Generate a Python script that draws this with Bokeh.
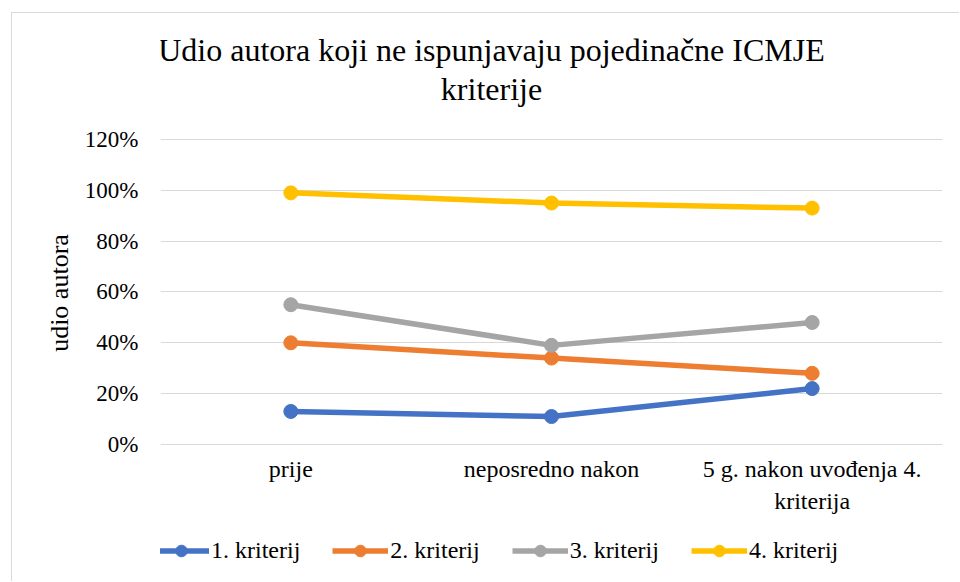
from bokeh.plotting import figure
from bokeh.models import FactorRange, Range1d, FixedTicker, NumeralTickFormatter, Legend, LegendItem, Label
from bokeh.embed import file_html
from bokeh.resources import INLINE

categories = ["prije", "neposredno nakon", "5 g. nakon uvođenja 4.\nkriterija"]
series_names = ["1. kriterij", "2. kriterij", "3. kriterij", "4. kriterij"]
k1 = [0.13, 0.11, 0.22]
k2 = [0.40, 0.34, 0.28]
k3 = [0.55, 0.39, 0.48]
k4 = [0.99, 0.95, 0.93]
y_ticks = [0, 0.2, 0.4, 0.6, 0.8, 1.0, 1.2]
title_text = "Udio autora koji ne ispunjavaju pojedinačne ICMJE\nkriterije"
y_label = "udio autora"

colors = ["#4472C4", "#ED7D31", "#A5A5A5", "#FFC000"]
FONT = "Liberation Serif"

# frame covers title + legend area so annotations are not clipped;
# the value axis keeps its 0..120% ticks and grid
p = figure(
    width=948, height=569,
    x_range=FactorRange(*categories, range_padding=0),
    y_range=Range1d(-0.5036, 1.6957),
    output_backend="svg", toolbar_location=None,
    min_border_left=148, min_border_right=18,
    min_border_top=0, min_border_bottom=10,
    margin=(12, 0, 0, 11),
    styles={"border-left": "1px solid #d9d9d9", "border-top": "1px solid #d9d9d9"},
)
p.title.visible = False
p.outline_line_color = None
p.background_fill_color = "white"
p.border_fill_color = "white"

# grid
p.xgrid.grid_line_color = None
p.ygrid.grid_line_color = "#d9d9d9"
p.ygrid.grid_line_width = 1

# y axis
p.yaxis.ticker = FixedTicker(ticks=y_ticks)
p.yaxis.formatter = NumeralTickFormatter(format="0%")
p.yaxis.axis_line_color = None
p.yaxis.major_tick_line_color = None
p.yaxis.minor_tick_line_color = None
p.yaxis.major_tick_out = 0
p.yaxis.major_tick_in = 0
p.yaxis.major_label_standoff = 22
p.yaxis.major_label_text_font = FONT
p.yaxis.major_label_text_font_size = "23px"
p.yaxis.major_label_text_color = "black"
p.yaxis.axis_label = y_label
p.yaxis.axis_label_text_font = FONT
p.yaxis.axis_label_text_font_size = "26px"
p.yaxis.axis_label_text_font_style = "normal"
p.yaxis.axis_label_text_color = "black"
p.yaxis.axis_label_standoff = 8

# x axis drawn at 0%
p.xaxis.fixed_location = 0
p.xaxis.axis_line_color = None
p.xaxis.major_tick_line_color = None
p.xaxis.minor_tick_line_color = None
p.xaxis.major_tick_out = 0
p.xaxis.major_tick_in = 0
p.xaxis.major_label_standoff = 12
p.xaxis.major_label_text_font = FONT
p.xaxis.major_label_text_font_size = "24px"
p.xaxis.major_label_text_color = "black"

items = []
for name, vals, c in zip(series_names, [k1, k2, k3, k4], colors):
    l = p.line(categories, vals, line_color=c, line_width=5.5)
    m = p.scatter(categories, vals, marker="circle", size=14, fill_color=c, line_color=c)
    items.append(LegendItem(label=name, renderers=[l, m]))

legend = Legend(
    items=items, orientation="horizontal", location=(-7, 7),
    glyph_width=56, glyph_height=29, label_standoff=2, spacing=32,
    padding=0, margin=0, border_line_color=None, background_fill_alpha=0,
    label_text_font=FONT, label_text_font_size="24px", label_text_color="black",
    label_height=24,
)
p.add_layout(legend, "center")

title = Label(
    x=331, y=503, x_units="screen", y_units="screen", text=title_text,
    text_align="center", text_baseline="middle", text_font=FONT,
    text_font_size="32px", text_color="black", text_line_height=1.08,
)
p.add_layout(title)

open("out.html", "w").write(file_html(p, INLINE))
